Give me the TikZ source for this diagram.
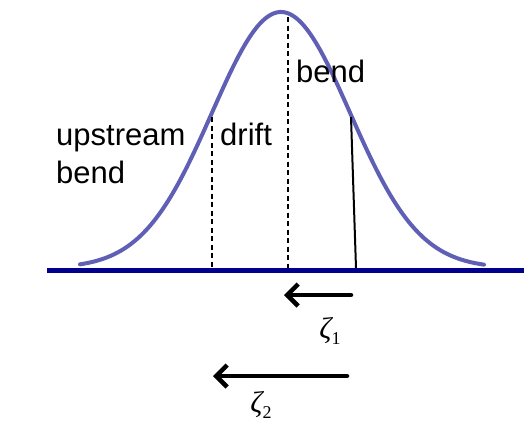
\documentclass[tikz,border=0pt]{standalone}
\usepackage{fontspec}
\setmainfont{Liberation Sans}
\newfontfamily\zserif{Liberation Serif}
\usetikzlibrary{arrows.meta}
\definecolor{curveblue}{RGB}{95,95,182}
\definecolor{baseblue}{RGB}{0,0,140}
\newcommand{\zetasub}[1]{{\zserif\fontsize{30}{34}\selectfont\itshape ζ}{\zserif\fontsize{18}{20}\selectfont\raisebox{-6pt}{#1}}}
\tikzset{
  lbl/.style={anchor=base west, inner sep=0pt, font=\fontsize{31}{37}\selectfont},
  zlbl/.style={anchor=center, inner sep=0pt},
  dashline/.style={black, line width=2pt, dash pattern=on 5pt off 3.5pt},
  solidline/.style={black, line width=2pt},
  movearrow/.style={black, line width=4.5pt, -{Straight Barb[length=11pt,width=22pt,line width=4.5pt]}, line cap=round},
}
\begin{document}
\begin{tikzpicture}[x=1pt,y=-1pt]
\useasboundingbox (0,0) rectangle (524,429);
% curve
\draw[curveblue, line width=4pt, line cap=round] plot[domain=80:484, samples=120, smooth] (\x, {268-256*exp(-0.5*((\x-281)/69)^2)});
% markers
\coordinate (d1t) at (212,117); \coordinate (d1b) at (212,268);
\coordinate (d2t) at (288,17);  \coordinate (d2b) at (288,268);
\coordinate (s1t) at (351,117); \coordinate (s1b) at (356,268);
\draw[dashline] (d1t) -- (d1b);
\draw[dashline] (d2t) -- (d2b);
\draw[solidline] (s1t) -- (s1b);
% baseline
\coordinate (bl) at (47,270); \coordinate (br) at (524,270);
\draw[baseblue, line width=5pt] (bl) -- (br);
% labels
\node[lbl] (up1) at (56,145) {upstream};
\node[lbl] (up2) at (56,183) {bend};
\node[lbl] (drift) at (220,145) {drift};
\node[lbl] (bend) at (296,82) {bend};
% arrows
\coordinate (a1s) at (351,295); \coordinate (a1e) at (284,295);
\coordinate (a2s) at (347,376); \coordinate (a2e) at (213,376);
\draw[movearrow] (a1s) -- (a1e);
\draw[movearrow] (a2s) -- (a2e);
\node[zlbl] (z1) at (330,331) {\zetasub{1}};
\node[zlbl] (z2) at (261,405) {\zetasub{2}};
\end{tikzpicture}
\end{document}
